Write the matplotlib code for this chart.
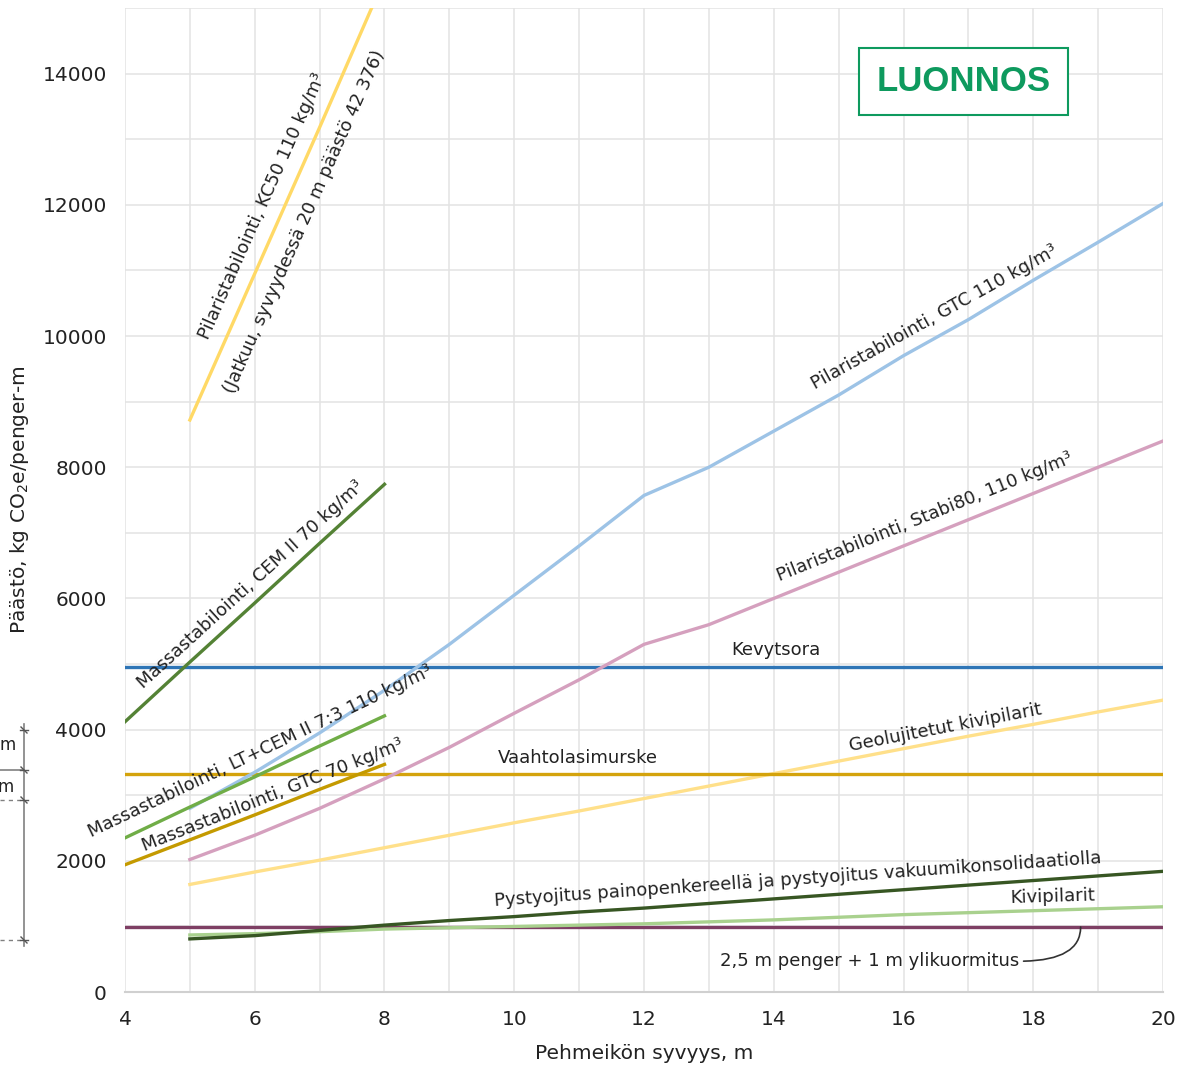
import numpy as np
import matplotlib
matplotlib.use('Agg')
import matplotlib.pyplot as plt
from matplotlib.lines import Line2D

# ---- data ----
depth_mass = [4, 5, 6, 7, 8]
mass_cem70 = [4120, 5030, 5930, 6840, 7740]
mass_ltcem = [2350, 2820, 3280, 3750, 4210]
mass_gtc70 = [1940, 2320, 2700, 3090, 3470]

depth_kc50 = [5, 6, 7, 8]
pil_kc50 = [8720, 10950, 13180, 15450]

depth_pil = [5, 6, 7, 8, 9, 10, 11, 12, 13, 14, 15, 16, 17, 18, 19, 20]
pil_gtc110 = [2800, 3350, 3950, 4600, 5300, 6050, 6800, 7570, 8000, 8550,
              9100, 9700, 10250, 10850, 11430, 12020]
pil_stabi80 = [2020, 2390, 2800, 3250, 3730, 4250, 4760, 5300, 5600, 6000,
               6400, 6800, 7200, 7600, 8000, 8400]
geo_kivipilarit = [1640, 1830, 2010, 2200, 2390, 2580, 2760, 2950, 3140, 3330,
                   3520, 3710, 3900, 4080, 4270, 4450]
pystyojitus = [810, 860, 940, 1020, 1090, 1150, 1220, 1280, 1350, 1420,
               1490, 1560, 1630, 1700, 1770, 1840]
kivipilarit = [870, 890, 920, 960, 980, 1000, 1020, 1040, 1070, 1100,
               1140, 1180, 1210, 1240, 1270, 1300]

depth_flat = [4, 20]
kevytsora = [4960, 4960]
vaahtolasi = [3330, 3330]
penger = [990, 990]

fig = plt.figure(figsize=(11.78, 10.65), dpi=100)
ax = fig.add_axes([0.1061, 0.0685, 0.8812, 0.9240])

ax.set_xlim(4, 20)
ax.set_ylim(0, 15000)
ax.set_xticks(np.arange(4, 21, 2))
ax.set_xticks(np.arange(4, 21, 1), minor=True)
ax.set_yticks(np.arange(0, 14001, 2000))
ax.set_yticks(np.arange(0, 15001, 1000), minor=True)
ax.grid(True, which='both', color='#E3E3E3', lw=1.1)
ax.set_axisbelow(True)
ax.tick_params(which='both', length=0, labelsize=14.5, colors='#222222')
ax.tick_params(axis='y', pad=13)
ax.tick_params(axis='x', pad=13)
for s in ['top', 'right', 'left']:
  ax.spines[s].set_visible(False)
ax.spines['bottom'].set_color('#D0D0D0')
ax.spines['bottom'].set_linewidth(1.5)

ax.set_xlabel('Pehmeikön syvyys, m', fontsize=14.5, labelpad=11, color='#222222')
ax.set_ylabel('Päästö, kg CO$_2$e/penger-m', fontsize=14.5, color='#222222')
ax.yaxis.set_label_coords(-0.091, 0.5)

lw = 2.4
ax.plot(depth_flat, penger, color='#7E3F64', lw=lw)
ax.plot(depth_pil, kivipilarit, color='#A9D18E', lw=lw)
ax.plot(depth_pil, pystyojitus, color='#375623', lw=lw)
ax.plot(depth_pil, geo_kivipilarit, color='#FFE08A', lw=lw)
ax.plot(depth_flat, vaahtolasi, color='#D4A30C', lw=lw)
ax.plot(depth_flat, kevytsora, color='#2E75B6', lw=lw)
ax.plot(depth_pil, pil_stabi80, color='#D5A0BE', lw=lw)
ax.plot(depth_pil, pil_gtc110, color='#9DC3E6', lw=lw)
ax.plot(depth_mass, mass_gtc70, color='#C49A00', lw=lw)
ax.plot(depth_mass, mass_ltcem, color='#70AD47', lw=lw)
ax.plot(depth_mass, mass_cem70, color='#548235', lw=lw)
ax.plot(depth_kc50, pil_kc50, color='#FFD966', lw=lw)


def slope_angle(xs, ys, x):
  # angle of the series around x, in data units (rotated by the transform)
  i = int(np.clip(np.searchsorted(xs, x) - 1, 0, len(xs) - 2))
  return np.degrees(np.arctan2(ys[i + 1] - ys[i], xs[i + 1] - xs[i]))


def label(x, y, txt, xs=None, ys=None, size=13):
  ang = 0 if xs is None else slope_angle(xs, ys, x)
  ax.text(x, y, txt, rotation=ang, rotation_mode='anchor',
          transform_rotates_text=True, ha='center', va='center',
          fontsize=size, color='#222222')


label(6.11, 11970, 'Pilaristabilointi, KC50 110 kg/m³', depth_kc50, pil_kc50)
label(6.77, 11740, '(Jatkuu, syvyydessä 20 m päästö 42 376)', depth_kc50, pil_kc50)
label(5.93, 6210, 'Massastabilointi, CEM II 70 kg/m³', depth_mass, mass_cem70)
label(6.08, 3660, 'Massastabilointi, LT+CEM II 7:3 110 kg/m³', depth_mass, mass_ltcem)
label(6.27, 3000, 'Massastabilointi, GTC 70 kg/m³', depth_mass, mass_gtc70)
label(16.48, 10280, 'Pilaristabilointi, GTC 110 kg/m³', depth_pil, pil_gtc110)
label(16.33, 7240, 'Pilaristabilointi, Stabi80, 110 kg/m³', depth_pil, pil_stabi80)
label(14.03, 5220, 'Kevytsora')
label(10.98, 3570, 'Vaahtolasimurske')
label(16.65, 4030, 'Geolujitetut kivipilarit', depth_pil, geo_kivipilarit)
label(14.37, 1710, 'Pystyojitus painopenkereellä ja pystyojitus vakuumikonsolidaatiolla',
      depth_pil, pystyojitus)
label(18.3, 1450, 'Kivipilarit', depth_pil, kivipilarit)

ax.annotate('2,5 m penger + 1 m ylikuormitus', xy=(18.73, 990), xytext=(15.48, 470),
            ha='center', va='center', fontsize=13, color='#222222',
            arrowprops=dict(arrowstyle='-', color='#333333', lw=1.2,
                            relpos=(1, 0.5), shrinkA=1, shrinkB=0,
                            connectionstyle='angle3,angleA=0,angleB=90'))

# draft stamp
ax.text(16.92, 13880, 'LUONNOS', ha='center', va='center', fontsize=25,
        fontweight='bold', family='Liberation Sans', color='#0E9A5E',
        bbox=dict(boxstyle='square,pad=0.5', fc='white', ec='#0E9A5E', lw=1.5))

# cropped dimension sketch at the left edge
gray = '#808080'
def fx(px):
  return px / 1178.0
def fy(py):
  return 1 - py / 1065.0

fig.add_artist(Line2D([fx(24), fx(24)], [fy(724), fy(946)], color=gray, lw=1.2))
fig.add_artist(Line2D([fx(0), fx(24)], [fy(770), fy(770)], color=gray, lw=1.2))
for py in [800, 940]:
  fig.add_artist(Line2D([fx(0), fx(20)], [fy(py), fy(py)], color=gray, lw=1.0, ls=(0, (3, 3))))
for py in [730, 770, 800, 940]:
  fig.add_artist(Line2D([fx(20), fx(28)], [fy(py), fy(py)], color='#555555', lw=1.0))
  fig.add_artist(Line2D([fx(21), fx(27)], [fy(py - 3), fy(py + 3)], color='#555555', lw=1.0))
fig.text(fx(8), fy(745), 'm', fontsize=12, color='#222222', ha='center', va='center')
fig.text(fx(6), fy(787), 'm', fontsize=12, color='#222222', ha='center', va='center')

fig.savefig('out.png', dpi=100)
